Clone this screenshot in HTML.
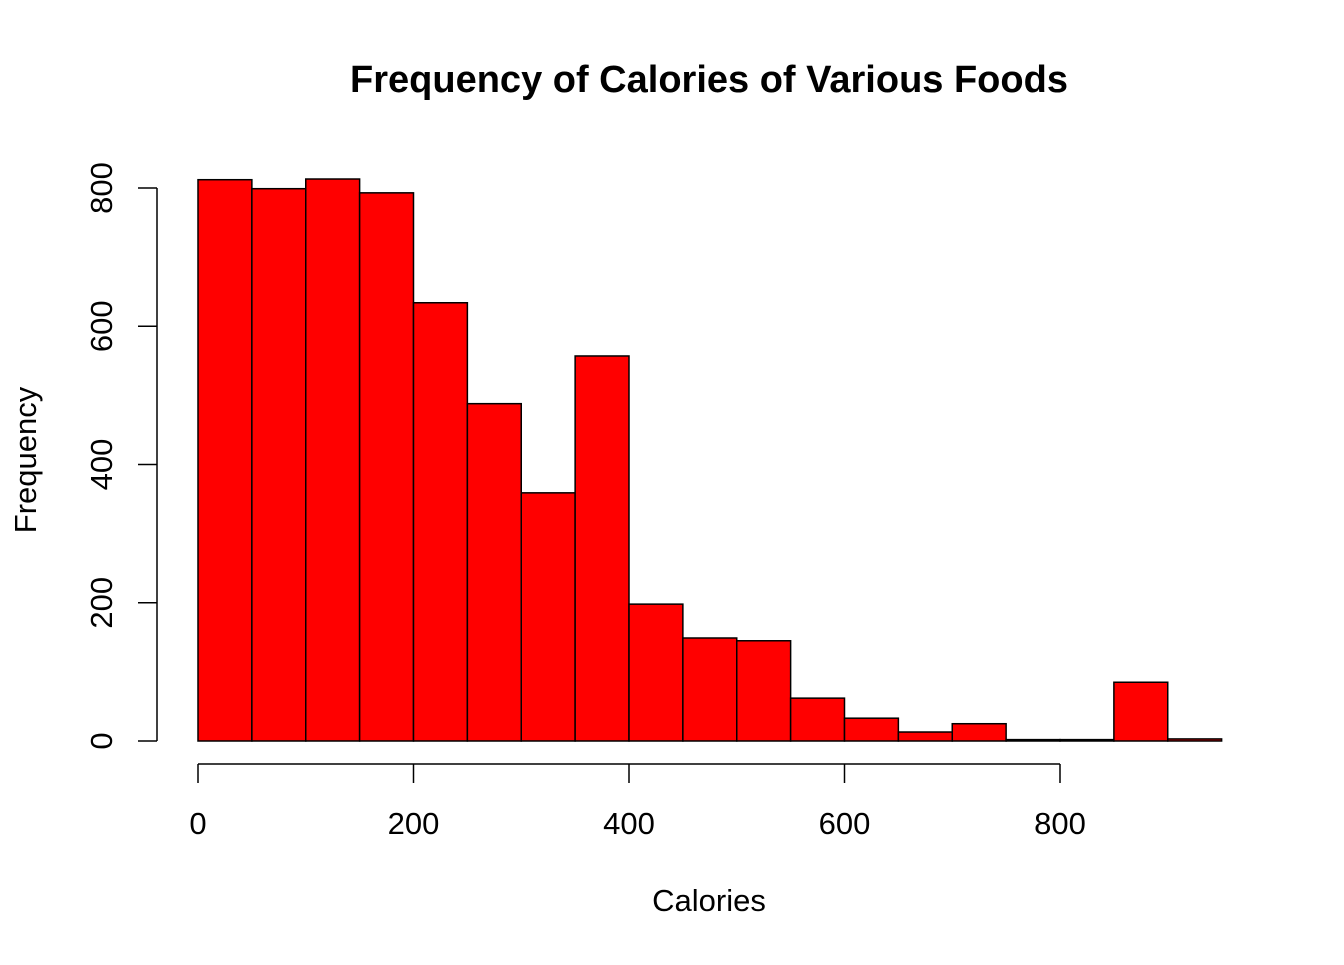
<!DOCTYPE html>
<html><head><meta charset="utf-8"><style>
body{margin:0;background:#fff;}
svg text{font-family:"Liberation Sans",Arial,sans-serif;fill:#000;}
</style></head><body>
<svg id="chart" width="1344" height="960">
<text x="709" y="92" text-anchor="middle" font-size="38" font-weight="bold">Frequency of Calories of Various Foods</text>
<text x="709" y="911" text-anchor="middle" font-size="31">Calories</text>
<text transform="translate(36,460) rotate(-90)" text-anchor="middle" font-size="31">Frequency</text>
<g id="bars"></g><g id="axes"></g>
</svg>
<script>
const binStarts=[0,50,100,150,200,250,300,350,400,450,500,550,600,650,700,750,800,850,900];
const counts=[812,799,813,793,634,488,359,557,198,149,145,62,33,13,25,2,2,85,3];
const xTicks=[0,200,400,600,800];
const yTicks=[0,200,400,600,800];
const binWidth=50;
const ns="http://www.w3.org/2000/svg";
const xs=v=>198+v*(1060-198)/800;
const ys=v=>741-v*(741-188)/800;
const bars=document.getElementById('bars'),axes=document.getElementById('axes');
function mk(tag,attrs,parent){const e=document.createElementNS(ns,tag);for(const k in attrs)e.setAttribute(k,attrs[k]);parent.appendChild(e);return e;}
binStarts.forEach((b,i)=>{
 const r=mk('rect',{x:xs(b),y:ys(counts[i]),width:xs(b+binWidth)-xs(b),height:ys(0)-ys(counts[i]),fill:'#ff0000',stroke:'#000','stroke-width':1.5},bars);
 
 
});
const xa=mk('line',{x1:xs(xTicks[0]),x2:xs(xTicks[xTicks.length-1]),y1:764,y2:764,stroke:'#000','stroke-width':1.5},axes);


xTicks.forEach(t=>{
 mk('line',{x1:xs(t),x2:xs(t),y1:764,y2:783,stroke:'#000','stroke-width':1.5},axes);
 const tx=mk('text',{x:xs(t),y:834,'text-anchor':'middle','font-size':31},axes);
 tx.textContent=t;
 
 
});
const ya=mk('line',{x1:157,x2:157,y1:ys(yTicks[0]),y2:ys(yTicks[yTicks.length-1]),stroke:'#000','stroke-width':1.5},axes);


yTicks.forEach(t=>{
 mk('line',{x1:138,x2:157,y1:ys(t),y2:ys(t),stroke:'#000','stroke-width':1.5},axes);
 const tx=mk('text',{transform:`translate(112,${ys(t)}) rotate(-90)`,'text-anchor':'middle','font-size':31},axes);
 tx.textContent=t;
 
 
});
</script>
</body></html>
